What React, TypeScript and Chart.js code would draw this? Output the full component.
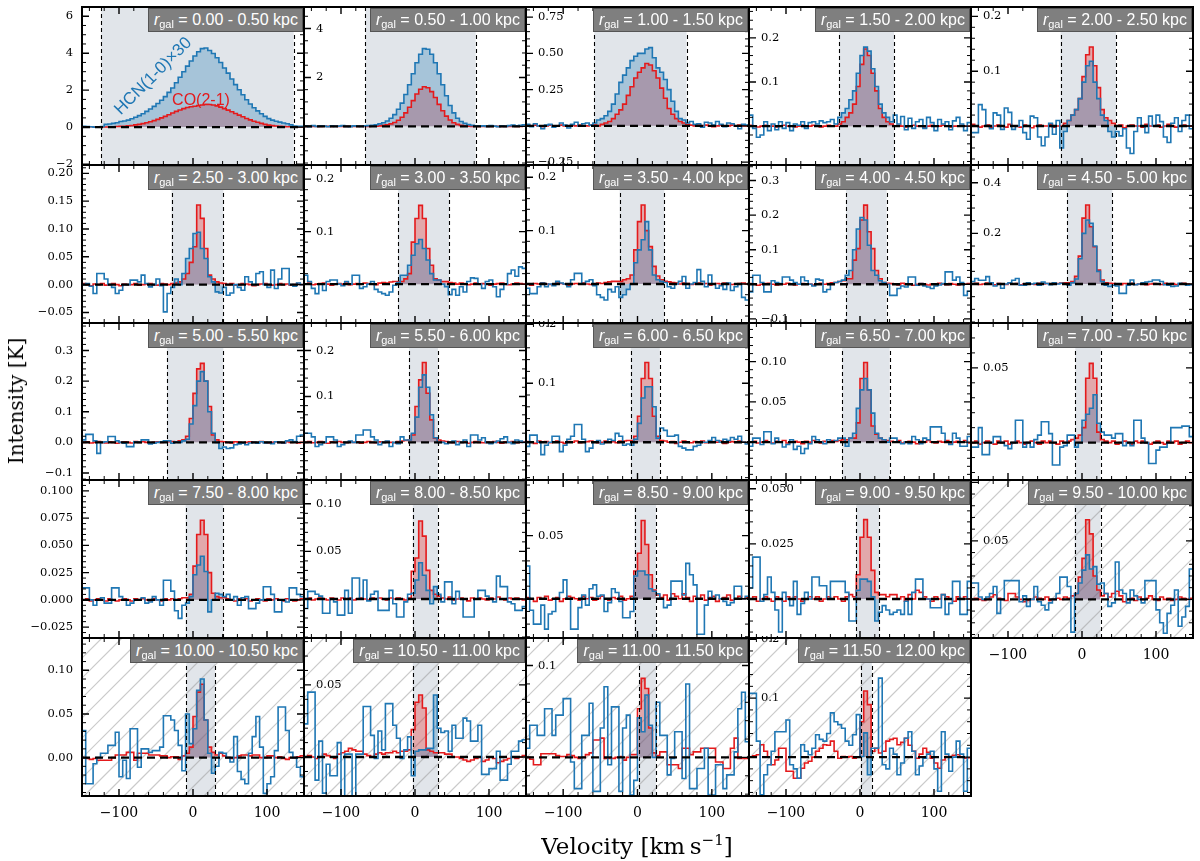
import React, { useEffect, useRef } from "react";
import { Chart, registerables } from "chart.js";
Chart.register(...registerables);

// Channel edges (km/s), 5 km/s channels
const VELOCITY_EDGES = [-150,-145,-140,-135,-130,-125,-120,-115,-110,-105,-100,-95,-90,-85,-80,-75,-70,-65,-60,-55,-50,-45,-40,-35,-30,-25,-20,-15,-10,-5,0,5,10,15,20,25,30,35,40,45,50,55,60,65,70,75,80,85,90,95,100,105,110,115,120,125,130,135,140,145,150];
const X_TICK_LABELS = [-100, 0, 100];

const PANEL_LABELS = ["0.00 - 0.50","0.50 - 1.00","1.00 - 1.50","1.50 - 2.00","2.00 - 2.50","2.50 - 3.00","3.00 - 3.50","3.50 - 4.00","4.00 - 4.50","4.50 - 5.00","5.00 - 5.50","5.50 - 6.00","6.00 - 6.50","6.50 - 7.00","7.00 - 7.50","7.50 - 8.00","8.00 - 8.50","8.50 - 9.00","9.00 - 9.50","9.50 - 10.00","10.00 - 10.50","10.50 - 11.00","11.00 - 11.50","11.50 - 12.00"];

// Spectra in mK, one value per channel (HCN already x30 in panels as plotted)
const HCN_01 = [50,30,20,0,20,30,150,170,200,240,300,330,380,450,530,620,720,850,980,1120,1280,1450,1650,1880,2120,2400,2700,3000,3300,3580,3850,4080,4250,4280,4150,3980,3750,3500,3200,2920,2600,2300,2020,1750,1480,1250,1050,880,720,580,460,380,320,270,220,180,120,60,40,50];
const CO_01 = [20,20,20,10,10,10,10,10,20,30,40,50,70,90,120,150,190,240,290,350,420,500,580,670,760,850,930,1000,1060,1100,1130,1170,1200,1220,1220,1200,1150,1080,1000,920,830,740,650,560,470,390,320,260,200,150,110,80,60,40,30,20,20,10,10,10];
const HCN_02 = [20,-10,30,0,20,10,-10,20,0,10,30,0,-10,20,10,0,20,30,40,60,100,150,220,330,480,700,950,1300,1700,2150,2600,2950,3180,3150,2950,2600,2150,1700,1250,850,550,330,200,120,70,40,20,10,20,0,30,10,-10,20,0,30,50,20,40,60];
const CO_02 = [0,5,0,-5,0,5,0,0,5,0,-5,0,5,0,0,5,0,0,10,10,20,40,60,100,160,250,370,550,780,1050,1320,1520,1620,1580,1420,1180,900,640,420,260,150,80,40,20,10,0,5,0,-5,0,0,5,0,0,-5,0,5,0,0,5];
const HCN_03 = [10,-5,15,0,-20,5,10,-10,0,20,5,-15,10,25,0,15,20,5,20,40,50,70,100,150,220,300,350,400,450,480,500,500,530,540,470,400,370,320,250,170,100,50,40,20,30,10,15,-10,25,20,5,30,10,-5,20,15,0,-20,10,5];
const CO_03 = [5,0,5,0,-5,0,5,0,0,5,0,0,5,0,5,0,0,5,5,0,10,20,30,50,80,110,150,210,270,330,370,400,430,420,380,330,260,190,120,80,50,30,20,10,5,0,5,0,5,0,-5,0,5,0,0,5,0,5,0,0];
const HCN_04 = [25,-5,-25,-20,10,-10,5,-8,10,-5,8,-10,5,2,10,-5,8,10,5,12,8,10,15,5,20,30,40,60,80,120,160,179,170,130,90,50,30,20,10,25,5,22,-8,18,-5,10,15,-5,20,8,-10,15,5,10,-8,12,20,5,-10,8];
const CO_04 = [2,0,-2,0,2,0,0,-2,0,2,0,0,-2,0,2,0,0,2,0,-2,0,2,0,0,5,10,20,30,50,90,140,175,160,120,80,40,20,10,5,0,2,0,-2,0,2,0,0,-2,0,2,0,0,2,0,-2,0,0,2,0,0];
const HCN_05 = [-12,-12,39,30,0,-5,24,20,-6,33,25,-6,0,10,-12,-24,18,15,-20,-36,-20,5,-15,10,-40,-10,10,20,30,50,80,110,118,80,50,20,10,-10,-20,-10,-18,-5,-40,-50,-10,15,0,-12,18,0,20,8,-20,-30,5,15,-10,10,20,-5];
const CO_05 = [3,0,-2,0,2,-3,0,2,0,-2,3,0,0,-2,2,0,-3,0,2,0,0,3,-2,0,0,5,10,20,30,50,90,130,144,110,70,30,15,10,5,0,2,-3,0,2,0,0,-2,3,0,0,2,-2,0,3,0,-2,0,2,0,0];
const HCN_06 = [0,2,-3,-16,20,20,10,0,-5,-16,-10,0,0,8,8,5,17,2,-4,0,10,-2,-49,-16,-5,10,0,20,47,65,92,94,65,47,14,5,-13,-15,-5,-19,-15,0,-5,-10,14,5,0,20,23,0,-5,26,-7,10,29,29,0,-3,3,0];
const CO_06 = [2,0,-2,1,0,2,-1,0,2,0,-2,1,0,0,2,-1,0,1,2,0,-1,2,1,0,2,3,5,10,20,40,68,143,119,65,17,10,5,3,2,0,2,-1,0,2,1,0,-2,0,1,2,0,-1,0,2,0,1,-1,0,2,0];
const HCN_07 = [17,5,-8,-18,0,-12,5,8,8,0,-3,5,0,17,17,-8,-5,0,5,-10,-15,-18,-21,-15,-2,3,17,17,36,55,77,85,68,46,20,8,8,0,-5,-20,-10,-21,-5,-15,5,12,11,0,-8,5,8,-5,-24,-10,0,20,27,15,33,30];
const CO_07 = [0,2,-1,0,1,2,0,-2,0,1,0,2,-1,0,1,0,2,1,0,-1,2,3,2,4,5,5,5,10,20,80,125,150,125,68,36,10,8,5,5,3,2,0,2,1,-1,0,2,0,1,0,-2,0,1,2,0,-1,0,2,1,0];
const HCN_08 = [-8,-18,-18,-5,2,-5,0,-3,5,2,0,-5,8,20,20,0,5,8,-3,-20,-25,-30,-10,-15,-5,-25,-20,-10,0,40,64,83,117,64,17,8,5,3,-5,-8,0,5,14,-8,0,3,27,5,-5,17,0,-8,-3,-10,2,-12,-5,0,-25,-30];
const CO_08 = [0,-2,1,0,2,0,-1,0,2,1,0,-2,0,1,0,2,0,-1,0,2,1,3,4,5,5,5,8,10,17,64,117,148,100,70,33,15,8,5,4,3,2,0,2,1,-1,0,2,0,1,-2,0,1,0,2,0,-1,0,1,2,0];
const HCN_09 = [-22,26,26,5,-22,-22,10,5,2,21,21,12,5,0,21,10,0,-5,15,12,-22,-15,0,5,8,12,26,40,100,160,193,186,113,40,26,10,5,0,-32,-32,-12,-5,-8,21,21,-3,2,-5,-8,-12,-5,-2,2,36,36,12,21,5,-32,-20];
const CO_09 = [2,0,-3,0,2,3,0,-2,1,0,3,0,-2,0,2,0,1,-2,0,3,0,2,4,5,8,10,16,16,70,103,186,229,152,103,40,16,5,3,2,0,-2,3,0,1,-3,0,2,0,-2,1,0,3,0,-1,2,0,-2,1,0,2];
const HCN_10 = [10,22,15,15,29,5,-8,0,-17,0,5,15,22,-5,-5,5,0,3,-5,8,2,-3,5,0,3,0,-5,5,20,100,200,253,240,150,50,10,-5,-10,-5,-8,-37,-37,-5,16,-3,0,5,8,10,16,16,10,-3,-5,-10,-8,3,0,-5,-3];
const CO_10 = [0,3,-2,0,4,0,-3,2,0,-2,3,0,2,-3,0,2,0,-2,3,0,2,0,3,2,4,5,5,10,30,110,260,312,226,147,55,16,5,3,2,0,-3,2,0,3,-2,0,2,-3,0,2,0,-2,3,0,2,-2,0,3,0,-2];
const HCN_11 = [8,26,26,5,-36,0,2,19,19,5,0,-3,-14,-14,2,0,8,8,-5,-3,0,2,5,5,-3,2,0,5,10,60,120,200,231,200,100,30,0,-20,-15,-20,-18,-8,-5,-3,-8,-2,0,-3,2,-2,0,-4,2,0,-2,5,8,3,20,24];
const CO_11 = [0,2,-2,0,3,0,-2,2,0,-3,0,2,0,-2,3,0,2,0,-2,0,2,0,2,2,3,2,5,8,20,78,160,240,258,200,117,24,8,3,2,0,-2,2,0,-3,0,2,0,-2,3,0,-2,0,2,0,-3,2,0,2,-2,0];
const HCN_12 = [20,20,12,-9,-5,0,12,12,5,-9,-5,0,3,0,16,16,27,27,12,5,-5,0,3,-9,0,-3,12,5,5,20,55,120,147,120,60,10,0,0,-3,0,3,-5,0,5,-9,16,16,5,10,0,-3,0,3,8,12,0,-3,5,3,0];
const CO_12 = [0,2,-1,0,2,0,-2,1,0,2,0,-1,2,0,1,-2,0,2,0,-1,1,0,2,0,-1,2,3,4,5,16,78,136,174,107,49,9,5,3,2,0,-1,2,0,1,-2,0,2,0,-1,1,0,2,0,-2,1,0,2,-1,0,1];
const HCN_13 = [-7,12,12,0,-21,-5,0,10,10,-16,-5,5,10,30,30,5,-16,-10,0,3,-3,0,5,3,15,10,-5,-3,-5,5,32,75,94,94,60,7,24,20,10,10,12,-7,-10,-13,-13,-7,-5,0,0,3,8,3,0,5,3,8,5,10,0,-3];
const CO_13 = [1,0,-2,2,0,1,-1,0,2,0,-2,1,0,2,-1,0,1,2,0,-1,0,2,0,1,-1,2,2,3,3,10,44,108,135,108,44,10,3,2,0,1,-2,0,2,0,-1,1,0,2,-1,0,1,0,2,-2,0,1,0,2,0,-1];
const HCN_14 = [-5,5,5,-3,13,13,-2,5,0,-6,-3,3,-9,-5,-14,-8,-2,7,3,0,-2,3,0,2,5,5,-5,5,11,42,65,79,65,36,11,5,3,0,5,5,0,-2,0,-2,7,3,-2,5,3,19,19,19,11,0,-3,11,5,-5,-5,7];
const CO_14 = [0,1,-1,0,2,0,-1,1,0,2,-1,0,1,0,-2,1,0,2,0,-1,1,0,2,1,2,3,3,5,5,24,79,99,65,20,10,5,3,2,1,0,2,-1,0,1,0,-2,1,0,2,0,-1,1,0,2,-1,0,1,0,2,-1];
const HCN_15 = [-3,-3,10,-8,-8,0,4,4,0,-2,-4,0,15,15,-3,0,-3,2,5,14,14,6,-15,-15,-3,-2,5,5,-3,0,15,19,23,32,13,7,5,5,3,6,6,-2,0,-2,15,15,3,0,-14,-14,-5,-3,-3,0,10,10,10,11,11,4];
const CO_15 = [0,1,-1,0,1,0,-1,1,0,1,-1,0,1,0,-1,0,1,0,-1,1,0,1,0,-1,1,0,1,2,3,5,10,43,53,43,7,2,1,0,1,-1,0,1,0,-1,1,0,1,0,-1,0,1,0,-1,1,0,1,-1,0,1,0];
const HCN_16 = [11,11,0,-5,0,2,-3,-3,11,11,3,0,-5,-3,0,0,2,-3,-2,3,0,-5,18,18,8,-10,-17,-5,-3,3,23,32,40,26,-11,0,6,5,3,5,0,3,-5,2,3,-8,-8,-3,0,12,12,5,-11,-11,0,-2,11,11,5,3];
const CO_16 = [0,1,-1,0,1,0,-1,1,0,-1,0,1,0,-1,1,0,1,0,-1,1,0,-1,1,0,1,0,1,2,2,5,31,60,73,60,25,6,3,2,2,1,0,-1,1,0,1,-1,0,1,0,-1,1,0,1,0,-1,1,0,-1,0,1];
const HCN_17 = [-10,8,8,5,3,-15,-15,0,-3,-17,-17,9,-15,22,22,0,20,-2,5,8,-12,-12,-12,9,-5,-19,-19,-3,5,6,20,38,25,9,-5,13,5,-3,18,18,-5,8,0,-19,-19,-19,0,9,9,3,0,-3,24,13,13,-3,-5,-12,-12,-8];
const CO_17 = [0,1,-1,0,1,0,-1,1,0,-1,1,0,1,-1,0,1,0,-1,1,0,1,0,-1,1,0,1,0,-1,1,29,43,82,66,30,9,5,3,1,0,2,-1,0,1,0,-2,1,0,1,0,-1,1,0,2,0,-1,1,0,1,0,-1];
const HCN_18 = [26,-9,-20,-20,-5,-24,-12,-10,0,5,15,0,-24,-24,-7,3,-5,8,11,2,3,-10,-3,8,5,-2,-15,-15,-10,18,22,22,19,8,6,4,0,-7,-5,14,14,14,3,28,19,11,-28,-28,-5,6,0,3,0,-2,-5,-3,10,10,0,2];
const CO_18 = [1,0,-2,1,0,2,-1,0,1,-2,0,2,1,0,-1,2,0,1,-1,0,2,0,-1,1,0,2,-1,0,2,22,36,62,43,19,7,3,1,3,-1,4,2,0,4,1,-2,2,0,3,-1,1,2,-2,0,1,3,-1,0,2,0,1];
const HCN_19 = [5,19,19,-1,2,10,3,-5,-15,3,0,-3,8,-7,-2,3,0,10,10,6,6,0,8,8,8,8,3,-10,-10,4,9,9,8,1,-10,-6,-3,-5,-7,-6,-5,-7,-1,-7,3,9,9,0,0,-4,-4,-4,2,-7,-2,8,8,-7,-7,8];
const CO_19 = [0,1,-1,0,1,0,-1,1,0,-1,1,0,1,0,-1,0,1,0,1,-1,0,1,0,1,0,-1,1,2,1,11,28,36,28,13,3,2,2,1,2,2,0,1,-1,2,0,4,3,1,0,-1,1,0,2,1,0,-1,1,0,1,0];
const HCN_20 = [14,14,2,0,2,5,11,-12,0,16,16,16,16,-2,3,-6,0,11,-2,-5,-9,-3,0,5,19,19,11,-28,5,14,25,38,26,28,13,14,5,-6,-3,32,8,5,-3,8,3,0,-3,16,16,16,-9,-20,-29,-12,-5,8,-23,-15,-6,26];
const CO_20 = [0,1,0,-1,0,2,4,1,0,-1,5,5,2,0,-2,-1,0,2,1,0,2,-1,0,1,0,2,1,3,5,19,35,68,56,20,8,3,5,2,5,7,3,-2,0,1,-1,2,0,1,3,0,-1,2,0,1,-1,0,2,1,0,1];
const HCN_21 = [31,-30,-30,-7,0,5,5,14,14,29,-22,-3,-24,33,33,-11,10,10,6,8,8,12,48,48,43,31,14,-15,50,16,33,77,90,43,5,-18,-10,6,5,0,-5,24,-16,-25,-30,5,24,47,12,-41,-30,-22,8,58,58,31,6,0,-11,-22];
const CO_21 = [0,-1,-2,-1,-3,-3,-3,-3,0,3,3,3,6,6,-3,5,5,5,3,3,3,2,2,0,1,1,-2,2,5,12,47,75,84,43,12,6,3,5,2,0,-1,0,2,3,3,2,3,3,0,0,2,2,0,1,-1,-2,0,0,1,2];
const HCN_22 = [23,45,45,-16,11,-25,-5,-13,-13,10,-28,2,2,-30,2,2,35,35,15,-1,18,5,37,37,22,13,-1,5,14,-13,4,5,5,6,6,43,20,17,18,4,22,13,13,27,25,11,11,22,-12,-12,-8,-8,4,-16,-16,-5,4,4,11,12];
const CO_22 = [0,1,0,-1,0,2,1,0,-1,2,3,4,6,5,4,4,2,1,0,2,3,2,3,3,4,3,4,4,5,19,38,43,34,5,4,3,3,3,2,2,0,0,-1,-2,-3,-2,-1,0,-3,-2,0,-1,-4,-3,-2,-1,0,-1,0,1];
const HCN_23 = [10,35,35,24,24,53,53,24,46,46,64,64,-5,-34,-34,24,24,59,-37,-37,32,77,-8,55,55,-37,32,46,-41,-25,43,28,68,35,0,60,24,24,-19,-1,28,28,-23,80,-34,-34,-12,-12,10,-41,-41,-8,-8,-34,-19,-19,6,53,71,17];
const CO_23 = [0,-2,-8,-8,4,4,4,4,2,1,1,3,2,0,-1,0,3,5,19,19,21,-1,-1,-1,0,1,-3,0,3,3,53,86,75,32,5,2,6,6,-8,-8,-8,-12,10,10,3,6,6,10,10,10,10,-5,-5,-12,-12,10,21,-1,-1,-1];
const HCN_24 = [108,108,27,-64,-30,-13,10,43,43,43,63,-13,-20,-36,21,10,4,15,38,30,27,40,75,60,55,49,27,20,38,72,1,41,-30,15,15,134,-13,-20,15,5,-30,-10,32,43,10,-30,-15,-2,5,10,-20,-58,43,5,-24,0,27,5,-58,15];
const CO_24 = [0,2,4,21,10,0,-13,-5,15,15,-24,-24,-36,-36,-19,-10,-7,0,10,15,21,20,27,10,-2,1,0,1,-2,0,60,112,89,10,15,7,10,27,30,32,21,25,32,20,10,-2,5,15,8,-2,-10,-19,-5,1,1,3,4,0,-2,-1];

const HCN = [HCN_01,HCN_02,HCN_03,HCN_04,HCN_05,HCN_06,HCN_07,HCN_08,HCN_09,HCN_10,HCN_11,HCN_12,HCN_13,HCN_14,HCN_15,HCN_16,HCN_17,HCN_18,HCN_19,HCN_20,HCN_21,HCN_22,HCN_23,HCN_24];
const CO = [CO_01,CO_02,CO_03,CO_04,CO_05,CO_06,CO_07,CO_08,CO_09,CO_10,CO_11,CO_12,CO_13,CO_14,CO_15,CO_16,CO_17,CO_18,CO_19,CO_20,CO_21,CO_22,CO_23,CO_24];

// Integration windows (km/s)
const WIN_LO = [-124,-67,-58,-28,-29,-29,-23,-24,-19,-20,-35,-8,-9,-24,-9,-10,-3,-4,-5,-10,-9,-3,2,1];
const WIN_HI = [136,82,66,46,46,41,46,36,36,41,41,31,30,40,25,41,31,25,26,25,30,31,25,16];
const HATCHED = [false,false,false,false,false,false,false,false,false,false,false,false,false,false,false,false,false,false,false,true,true,true,true,true];

// Y axes (K)
const Y_MIN = [-2.05,-1.58,-0.27,-0.088,-0.071,-0.069,-0.074,-0.073,-0.112,-0.154,-0.123,-0.082,-0.064,-0.047,-0.025,-0.035,-0.041,-0.031,-0.0177,-0.033,-0.044,-0.027,-0.042,-0.066];
const Y_MAX = [6.5,4.88,0.82,0.27,0.217,0.215,0.227,0.223,0.345,0.47,0.39,0.26,0.202,0.148,0.08,0.11,0.125,0.094,0.054,0.102,0.137,0.0825,0.13,0.202];
const Y_MAJOR = [2,2,0.25,0.1,0.1,0.05,0.1,0.1,0.1,0.2,0.1,0.1,0.1,0.05,0.05,0.025,0.05,0.05,0.025,0.05,0.05,0.05,0.1,0.1];
const Y_MINOR = [0.5,0.5,0.05,0.02,0.02,0.01,0.02,0.02,0.02,0.05,0.02,0.02,0.02,0.01,0.01,0.005,0.01,0.01,0.005,0.01,0.01,0.01,0.02,0.02];
const Y_LABELS = [[6,4,2,0,-2],[4,2],[0.75,0.5,0.25,-0.25],[0.2,0.1],[0.2,0.1],[0.2,0.15,0.1,0.05,0,-0.05],[0.2,0.1],[0.2,0.1],[0.3,0.2,0.1,-0.1],[0.4,0.2],[0.3,0.2,0.1,0,-0.1],[0.2,0.1],[0.2,0.1],[0.1,0.05],[0.05],[0.1,0.075,0.05,0.025,0,-0.025],[0.1,0.05],[0.05],[0.05,0.025],[0.05],[0.1,0.05,0],[0.05],[0.1],[0.2,0.1]];
const Y_DECIMALS = [0,0,2,1,1,2,1,1,1,1,1,1,1,2,2,3,2,2,3,2,2,2,1,1];

// Layout grid (page px)
const COL_X = [82, 304, 526, 749, 971, 1193];
const ROW_Y = [7, 165, 323, 480, 638, 796];

const BLUE = "#1f77b4";
const RED = "#e41a1c";

function fmt(v: number, dec: number) {
  const s = Math.abs(v).toFixed(dec);
  return (v < -1e-12 ? "\u2212" : "") + s;
}

function Panel({ p }: { p: number }) {
  const ref = useRef<HTMLCanvasElement | null>(null);
  const col = p % 5;
  const row = Math.floor(p / 5);
  const isLeft = col === 0;
  const isBottom = row === 4 || p === 19;
  const padL = isLeft ? 82 : 2;
  const padR = 2;
  const padT = 2;
  const padB = isBottom ? 40 : 2;
  const w = COL_X[col + 1] - COL_X[col] + padL + padR;
  const h = ROW_Y[row + 1] - ROW_Y[row] + padT + padB;

  useEffect(() => {
    const canvas = ref.current;
    if (!canvas) return;
    const lo = WIN_LO[p];
    const hi = WIN_HI[p];
    const hcn = HCN[p].map((v) => v / 1000);
    const co = CO[p].map((v) => v / 1000);

    const stepLine = (vals: number[]) => {
      const pts = vals.map((y, i) => ({ x: VELOCITY_EDGES[i], y }));
      pts.push({ x: VELOCITY_EDGES[vals.length], y: vals[vals.length - 1] });
      return pts;
    };
    const windowFill = (vals: number[]) => {
      const pts: { x: number; y: number }[] = [];
      let last = 0;
      for (let i = 0; i < vals.length; i++) {
        const a = VELOCITY_EDGES[i];
        const b = VELOCITY_EDGES[i + 1];
        if (b <= lo || a >= hi) continue;
        pts.push({ x: Math.max(a, lo), y: vals[i] });
        last = i;
      }
      pts.push({ x: hi, y: vals[last] });
      return pts;
    };

    const ymin = Y_MIN[p];
    const ymax = Y_MAX[p];
    const major = Y_MAJOR[p];
    const minor = Y_MINOR[p];
    const dec = Y_DECIMALS[p];

    const deco = {
      id: "deco" + p,
      beforeDatasetsDraw(chart: any) {
        const { ctx, chartArea: a, scales } = chart;
        const x = scales.x;
        ctx.save();
        ctx.beginPath();
        ctx.rect(a.left, a.top, a.right - a.left, a.bottom - a.top);
        ctx.clip();
        const xl = x.getPixelForValue(lo);
        const xh = x.getPixelForValue(hi);
        ctx.fillStyle = "#e1e5ea";
        ctx.fillRect(xl, a.top, xh - xl, a.bottom - a.top);
        if (HATCHED[p]) {
          ctx.strokeStyle = "rgba(150,150,150,0.5)";
          ctx.lineWidth = 1.2;
          const H = a.bottom - a.top;
          for (let k = -H; k < a.right - a.left + H; k += 20) {
            ctx.beginPath();
            ctx.moveTo(a.left + k, a.bottom);
            ctx.lineTo(a.left + k + H, a.top);
            ctx.stroke();
          }
        }
        ctx.restore();
      },
      afterDatasetsDraw(chart: any) {
        const { ctx, chartArea: a, scales } = chart;
        const x = scales.x;
        const y = scales.y;
        ctx.save();
        ctx.beginPath();
        ctx.rect(a.left, a.top, a.right - a.left, a.bottom - a.top);
        ctx.clip();
        const y0 = y.getPixelForValue(0);
        ctx.strokeStyle = "#000";
        ctx.lineWidth = 2.4;
        ctx.setLineDash([8, 5]);
        ctx.beginPath();
        ctx.moveTo(a.left, y0);
        ctx.lineTo(a.right, y0);
        ctx.stroke();
        ctx.lineWidth = 1.1;
        ctx.setLineDash([4, 3]);
        for (const v of [lo, hi]) {
          const px = Math.round(x.getPixelForValue(v)) + 0.5;
          ctx.beginPath();
          ctx.moveTo(px, a.top);
          ctx.lineTo(px, a.bottom);
          ctx.stroke();
        }
        ctx.restore();
      },
      afterDraw(chart: any) {
        const { ctx, chartArea: a, scales } = chart;
        const x = scales.x;
        const y = scales.y;
        ctx.save();
        ctx.strokeStyle = "#000";
        for (let v = -140; v <= 140; v += 20) {
          const isMaj = v % 100 === 0;
          const L = isMaj ? 7 : 4;
          ctx.lineWidth = isMaj ? 1.4 : 1;
          const px = x.getPixelForValue(v);
          ctx.beginPath();
          ctx.moveTo(px, a.bottom);
          ctx.lineTo(px, a.bottom - L);
          ctx.moveTo(px, a.top);
          ctx.lineTo(px, a.top + L);
          ctx.stroke();
        }
        const k0 = Math.ceil(ymin / minor - 1e-9);
        const k1 = Math.floor(ymax / minor + 1e-9);
        for (let k = k0; k <= k1; k++) {
          const v = k * minor;
          const r = v / major;
          const isMaj = Math.abs(r - Math.round(r)) < 1e-6;
          const L = isMaj ? 7 : 4;
          ctx.lineWidth = isMaj ? 1.4 : 1;
          const py = y.getPixelForValue(v);
          ctx.beginPath();
          ctx.moveTo(a.left, py);
          ctx.lineTo(a.left + L, py);
          ctx.moveTo(a.right, py);
          ctx.lineTo(a.right - L, py);
          ctx.stroke();
        }
        ctx.lineWidth = 2;
        ctx.strokeRect(a.left, a.top, a.right - a.left, a.bottom - a.top);
        ctx.restore();
      },
    };

    const config: any = {
      type: "line",
      data: {
        datasets: [
          { data: stepLine(hcn), borderColor: BLUE, borderWidth: 1.6, stepped: "before", pointRadius: 0, fill: false },
          { data: stepLine(co), borderColor: RED, borderWidth: 1.6, stepped: "before", pointRadius: 0, fill: false },
          { data: windowFill(hcn), borderColor: "rgba(0,0,0,0)", borderWidth: 0, backgroundColor: "rgba(31,119,180,0.3)", stepped: "before", pointRadius: 0, fill: "origin" },
          { data: windowFill(co), borderColor: "rgba(0,0,0,0)", borderWidth: 0, backgroundColor: "rgba(228,26,28,0.3)", stepped: "before", pointRadius: 0, fill: "origin" },
        ],
      },
      options: {
        animation: false,
        responsive: false,
        events: [],
        plugins: { legend: { display: false }, tooltip: { enabled: false } },
        layout: { padding: { top: padT, right: padR, left: 0, bottom: 0 } },
        scales: {
          x: {
            type: "linear",
            min: -150,
            max: 150,
            grid: { display: false, drawTicks: false },
            border: { display: false },
            ticks: {
              display: isBottom,
              autoSkip: false,
              maxRotation: 0,
              padding: 9,
              color: "#000",
              font: { family: "DejaVu Serif", size: 14 },
              callback: (v: number) => fmt(v, 0),
            },
            afterBuildTicks: (s: any) => {
              s.ticks = X_TICK_LABELS.map((v) => ({ value: v }));
            },
            afterFit: (s: any) => {
              s.height = padB;
              s.paddingLeft = 0;
              s.paddingRight = 0;
            },
          },
          y: {
            type: "linear",
            min: ymin,
            max: ymax,
            z: 1,
            grid: { display: false, drawTicks: false },
            border: { display: false },
            ticks: {
              mirror: !isLeft,
              padding: isLeft ? 9 : 12,
              autoSkip: false,
              color: "#000",
              font: { family: "DejaVu Serif", size: 11.5 },
              callback: (v: number) => fmt(v, dec),
            },
            afterBuildTicks: (s: any) => {
              s.ticks = Y_LABELS[p].map((v) => ({ value: v }));
            },
            afterFit: (s: any) => {
              s.width = padL;
              s.paddingTop = 0;
              s.paddingBottom = 0;
            },
          },
        },
      },
      plugins: [deco],
    };
    const chart = new Chart(canvas, config);
    return () => chart.destroy();
  }, [p]);

  return (
    <canvas
      ref={ref}
      width={w}
      height={h}
      style={{ position: "absolute", left: COL_X[col] - padL, top: ROW_Y[row] - padT, width: w, height: h }}
    />
  );
}

function TitleBox({ p }: { p: number }) {
  const col = p % 5;
  const row = Math.floor(p / 5);
  return (
    <div
      style={{
        position: "absolute",
        top: ROW_Y[row] + 1,
        right: 1200 - (COL_X[col + 1] - 1),
        height: 24,
        boxSizing: "border-box",
        background: "#7f7f7f",
        border: "1px solid #555",
        color: "#fff",
        fontFamily: '"Liberation Sans", Arial, sans-serif',
        fontSize: 16,
        lineHeight: "22px",
        padding: "0 4px 0 5px",
        whiteSpace: "nowrap",
      }}
    >
      <i>r</i>
      <span style={{ fontSize: 11, position: "relative", top: 3 }}>gal</span> = {PANEL_LABELS[p]} kpc
    </div>
  );
}

export default function App() {
  const panels = PANEL_LABELS.map((_, i) => i);
  return (
    <div style={{ position: "absolute", left: 0, top: 0, width: 1200, height: 861, background: "#fff", overflow: "hidden" }}>
      {panels.map((p) => (
        <Panel key={"c" + p} p={p} />
      ))}
      {panels.map((p) => (
        <TitleBox key={"t" + p} p={p} />
      ))}
      <div
        style={{
          position: "absolute",
          left: 153,
          top: 76,
          transform: "translate(-50%,-50%) rotate(-45deg)",
          color: BLUE,
          fontFamily: '"Liberation Sans", Arial, sans-serif',
          fontSize: 17,
          whiteSpace: "nowrap",
        }}
      >
        HCN(1-0)×30
      </div>
      <div
        style={{
          position: "absolute",
          left: 201,
          top: 100,
          transform: "translate(-50%,-50%)",
          color: RED,
          fontFamily: '"Liberation Sans", Arial, sans-serif',
          fontSize: 16,
          whiteSpace: "nowrap",
        }}
      >
        CO(2-1)
      </div>
      <div
        style={{
          position: "absolute",
          left: 637,
          top: 826,
          transform: "translateX(-50%)",
          fontFamily: '"DejaVu Serif", serif',
          fontSize: 23,
          lineHeight: "28px",
          whiteSpace: "nowrap",
        }}
      >
        Velocity [km{"\u2009"}s<sup style={{ fontSize: 15 }}>{"\u2212"}1</sup>]
      </div>
      <div
        style={{
          position: "absolute",
          left: 16,
          top: 401,
          transform: "translate(-50%,-50%) rotate(-90deg)",
          fontFamily: '"DejaVu Serif", serif',
          fontSize: 20,
          whiteSpace: "nowrap",
        }}
      >
        Intensity [K]
      </div>
    </div>
  );
}
